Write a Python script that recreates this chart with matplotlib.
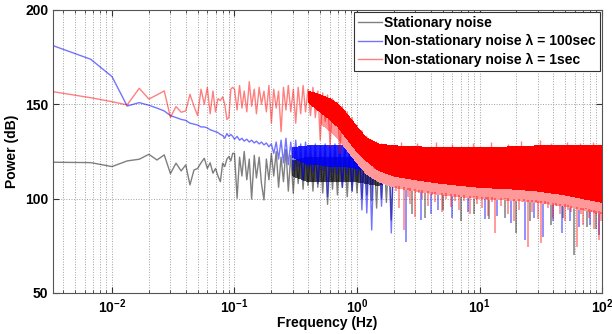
import numpy as np
import matplotlib
matplotlib.use("Agg")
import matplotlib.pyplot as plt
from matplotlib.lines import Line2D

plt.rcParams['font.family'] = ['Liberation Sans', 'DejaVu Sans']
plt.rcParams['font.weight'] = 'bold'
plt.rcParams['mathtext.fontset'] = 'custom'
plt.rcParams['mathtext.rm'] = 'Liberation Sans:bold'
plt.rcParams['mathtext.bf'] = 'Liberation Sans:bold'

# ---------------- data ----------------
labels = ["Stationary noise",
          "Non-stationary noise \u03bb = 100sec",
          "Non-stationary noise \u03bb = 1sec"]

# low-frequency bins (k/300 Hz, k = 1..29)
f_low = [0.0033, 0.0067, 0.0100, 0.0133, 0.0167, 0.0200, 0.0233, 0.0267, 0.0300, 0.0333,
         0.0367, 0.0400, 0.0433, 0.0467, 0.0500, 0.0533, 0.0567, 0.0600, 0.0633, 0.0667,
         0.0700, 0.0733, 0.0767, 0.0800, 0.0833, 0.0867, 0.0900, 0.0933, 0.0967]
black_low = [119.3, 119.1, 117.0, 120.0, 120.9, 123.5, 120.5, 123.2, 113.3, 118.8,
             114.7, 117.9, 107.3, 115.2, 116.0, 119.0, 121.4, 116.0, 119.0, 113.5,
             116.0, 112.0, 109.0, 118.8, 117.0, 121.0, 122.3, 120.0, 124.0]
blue_low = [181.1, 173.9, 164.7, 149.1, 150.9, 149.5, 148.0, 146.5, 144.0, 143.0,
            142.0, 141.5, 140.0, 139.5, 139.0, 138.0, 138.0, 137.5, 136.5, 136.0,
            135.5, 135.0, 134.0, 133.5, 132.0, 134.5, 133.0, 134.0, 133.0]
red_low = [156.7, 153.5, 151.4, 149.7, 158.5, 152.8, 155.0, 157.1, 143.1, 148.8,
           145.8, 146.5, 155.3, 149.0, 144.0, 158.0, 150.0, 159.0, 145.0, 157.0,
           146.0, 153.0, 152.0, 154.0, 150.0, 142.0, 143.0, 158.0, 159.0]

# mid frequencies (0.1 - 2 Hz): peaks / troughs
f_mid = [0.1, 0.105, 0.11, 0.115, 0.12, 0.126, 0.132, 0.138, 0.145, 0.151,
         0.159, 0.166, 0.174, 0.182, 0.191, 0.2, 0.209, 0.219, 0.229, 0.24,
         0.251, 0.263, 0.275, 0.288, 0.302, 0.316, 0.331, 0.347, 0.363, 0.38,
         0.398, 0.417, 0.437, 0.457, 0.479, 0.501, 0.525, 0.55, 0.575, 0.603,
         0.631, 0.661, 0.692, 0.724, 0.759, 0.794, 0.832, 0.871, 0.912, 0.955,
         1.0, 1.047, 1.096, 1.148, 1.202, 1.259, 1.318, 1.38, 1.445, 1.514,
         1.585, 1.66, 1.738, 1.82, 1.905, 1.995]
red_mid = [158, 147, 160, 148, 157, 146, 162, 149, 158, 145,
           159, 150, 157, 146, 160, 140, 158, 148, 157, 135.5,
           159, 147, 160, 146, 158, 140, 159, 145, 160, 146,
           158, 144, 159, 143, 157, 131, 156, 141, 155, 127.6,
           153, 139, 151, 124, 149, 134, 146, 130, 143, 127,
           139, 124, 136, 121, 133, 119, 131, 116, 130, 115,
           129, 114, 128, 113, 128, 112]
blue_mid = [131.5, 133, 131, 132, 130.5, 131.5, 130, 131, 129.5, 130.5,
            129, 130, 128.5, 129.5, 127.5, 129, 124, 130, 121, 131,
            119, 132, 118, 130, 115, 131, 117, 129, 110, 130,
            116, 128, 114, 129, 108, 128, 115, 129, 101, 128,
            114, 129, 113, 128, 106, 129, 113, 128, 104, 128,
            112, 128, 94, 127, 92.4, 127, 83.4, 127, 110, 127,
            96, 127, 109, 127, 81.8, 127]
black_mid = [124, 100.2, 122, 112, 125, 110, 121, 99.8, 123, 111,
             122, 108, 99.3, 121, 110, 124, 112, 125, 106, 122,
             109, 126, 104, 123, 102.8, 125, 108, 124, 105, 125,
             107, 124, 104, 125, 106, 124, 103, 125, 97, 124,
             105, 125, 102, 124, 106, 125, 101, 124, 104, 125,
             103, 124, 100, 125, 102, 124, 99, 125, 95, 124,
             100, 125, 98, 124, 88.7, 125]

# dense core of the spectra (envelope), NaN = no dense core
band_f = [0.3, 0.4, 0.5, 0.6, 0.7, 0.8, 1.0, 1.2, 1.5, 2, 3, 5, 7, 10, 20, 30, 50, 70, 100]
black_hi = [120, 122, 122, 122, 122, 122, 122, 123, 123, 124] + [np.nan] * 9
black_lo = [112, 109, 109, 109, 109, 109, 109, 108, 107, 110] + [np.nan] * 9
blue_hi = [127, 128, 128, 128, 128, 128, 127.5, 127.5, 127, 127] + [np.nan] * 9
blue_lo = [122, 118, 118, 117, 117, 117, 116, 115, 113, 113] + [np.nan] * 9
red_hi = [np.nan, 157, 155, 153, 150, 146, 138, 132, 129, 128, 127.5, 127, 127, 127, 127.5, 128, 128, 128, 128]
red_lo = [np.nan, 151, 146, 142, 138, 133, 125, 120, 115, 112, 110, 108, 107, 106, 105, 104, 102, 100, 98]
# lighter fringe just below the dense red core
red_fringe = [np.nan, np.nan, 140, 136, 132, 127, 119, 113, 109, 106, 104, 102, 101, 100, 99, 98, 96, 94, 92]

# deep downward spikes above 2 Hz
black_spike_f = [2.8, 3.6, 5, 7, 9, 12, 16, 20, 26, 38, 48, 59, 75, 90]
black_spike_db = [92, 90, 94, 88, 92, 89, 90, 81.8, 88, 86, 90, 70.2, 85, 84]
blue_spike_f = [2.5, 3.3, 4.0, 4.6, 6, 8, 11, 14, 18, 23.5, 28, 33, 40, 47, 55, 65, 80, 95]
blue_spike_db = [77.2, 88.7, 92, 94, 90, 93, 89, 91, 87, 78, 90, 79.9, 88, 81.8, 88, 85, 86, 80.8]
red_spike_f = [2.1, 2.2, 2.4, 2.6, 2.7, 3.0, 3.2, 3.4, 3.8, 4.1, 4.3, 4.9, 5.3, 5.8, 6.3,
               6.8, 7.5, 8.3, 9.0, 9.5, 10.5, 11.2, 11.8, 12.6, 13.5, 15, 16, 17, 19,
               21, 23, 24.8, 27, 29, 30, 32, 34, 36, 40, 42, 45, 48, 50, 53, 56, 60,
               63, 67, 70, 74, 78, 82, 86, 90, 95, 98]
red_spike_db = [104, 95, 83.4, 101, 97, 90.5, 103, 100, 96, 102, 98, 93, 100, 95.8, 99,
                94, 99, 92, 101, 97, 95, 100, 91, 98, 81.8, 96, 100, 92, 88,
                94, 99, 74.6, 93, 98, 89, 76.5, 97, 95, 90, 96, 92, 97, 88, 94, 93, 96,
                74.6, 92, 86, 95, 90, 93, 84, 92, 78, 88]
# small upward spikes on top of the red core
red_up_f = [2.3, 3.1, 4.4, 6.0, 8.8, 12.5, 17, 22, 31, 38, 52, 66, 85]
red_up_db = [130, 129.5, 130, 129, 129.5, 130, 129, 130.5, 131, 129.5, 130, 129.5, 130]

x_ticks = [0.01, 0.1, 1, 10, 100]
x_ticklabels = [r'$\mathbf{10^{-2}}$', r'$\mathbf{10^{-1}}$', r'$\mathbf{10^{0}}$',
                r'$\mathbf{10^{1}}$', r'$\mathbf{10^{2}}$']
y_ticks = [50, 100, 150, 200]

# ---------------- plot ----------------
fig = plt.figure(figsize=(6.12, 3.34), dpi=100)
ax = fig.add_axes([0.0866, 0.1228, 0.8971, 0.8473])
ax.set_axisbelow(True)

series = [
    (black_low, black_mid, black_hi, black_lo, black_spike_f, black_spike_db, 'black', 0.5, 0.7),
    (blue_low, blue_mid, blue_hi, blue_lo, blue_spike_f, blue_spike_db, '#0000ff', 0.55, 0.85),
    (red_low, red_mid, red_hi, red_lo, red_spike_f, red_spike_db, '#ff0000', 0.5, 1.0),
]
lbf = np.log10(band_f)
fringe_arr = np.array(red_fringe, dtype=float)
for i, (vl, vm, hi, lo, sf, sd, col, a, band_a) in enumerate(series):
    z = 1 + i
    is_red = (i == 2)
    top = np.interp(np.log10(sf), lbf[2:], fringe_arr[2:]) + 1
    ax.vlines(sf, sd, top, color=col, alpha=a, lw=1.1, zorder=z + 0.1)
    if is_red:
        ax.fill_between(band_f, red_fringe, lo, facecolor='#ff9999', edgecolor='none',
                        lw=0, zorder=z, antialiased=False)
    ax.fill_between(band_f, lo, hi, facecolor=col, edgecolor='none', alpha=band_a,
                    lw=0, zorder=z + 0.2, antialiased=False)
    ax.plot(f_low + f_mid, vl + vm, color=col, alpha=a, lw=1.0, zorder=z + 0.3)
    if is_red:
        base = np.interp(np.log10(red_up_f), lbf[1:], np.array(red_hi[1:], dtype=float)) - 2
        ax.vlines(red_up_f, base, red_up_db, color=col, alpha=0.5, lw=1.0, zorder=z + 0.4)

ax.set_xscale('log')
ax.set_xlim(f_low[0], 100)
ax.set_ylim(50, 200)
ax.set_xticks(x_ticks)
ax.set_xticklabels(x_ticklabels)
ax.set_yticks(y_ticks)
ax.tick_params(which='both', direction='in', top=True, right=True, labelsize=10,
               colors='#333333', labelcolor='black')
ax.tick_params(which='major', length=4)
ax.tick_params(which='minor', length=2)
ax.grid(True, which='both', axis='x', linestyle=':', color='#a0a0a0', lw=0.7)
ax.grid(True, which='major', axis='y', linestyle=':', color='#a0a0a0', lw=0.7)
for s in ax.spines.values():
    s.set_color('#555555')
    s.set_linewidth(0.8)
for t in ax.get_yticklabels():
    t.set_fontweight('bold')

ax.set_xlabel('Frequency (Hz)', fontsize=10, fontweight='bold', labelpad=0)
ax.set_ylabel('Power (dB)', fontsize=10, fontweight='bold', labelpad=4)

handles = [Line2D([], [], color='black', alpha=0.5, lw=1),
           Line2D([], [], color='blue', alpha=0.55, lw=1),
           Line2D([], [], color='red', alpha=0.5, lw=1)]
leg = ax.legend(handles, labels, loc='upper right', frameon=True,
                fancybox=False, borderaxespad=0.15, handlelength=1.7,
                handletextpad=0.15, labelspacing=0.3, borderpad=0.3,
                prop={'weight': 'bold', 'size': 10})
leg.set_zorder(10)
leg.get_frame().set_edgecolor('#333333')
leg.get_frame().set_linewidth(0.8)
leg.get_frame().set_alpha(1)

fig.savefig('out.png', dpi=100)
